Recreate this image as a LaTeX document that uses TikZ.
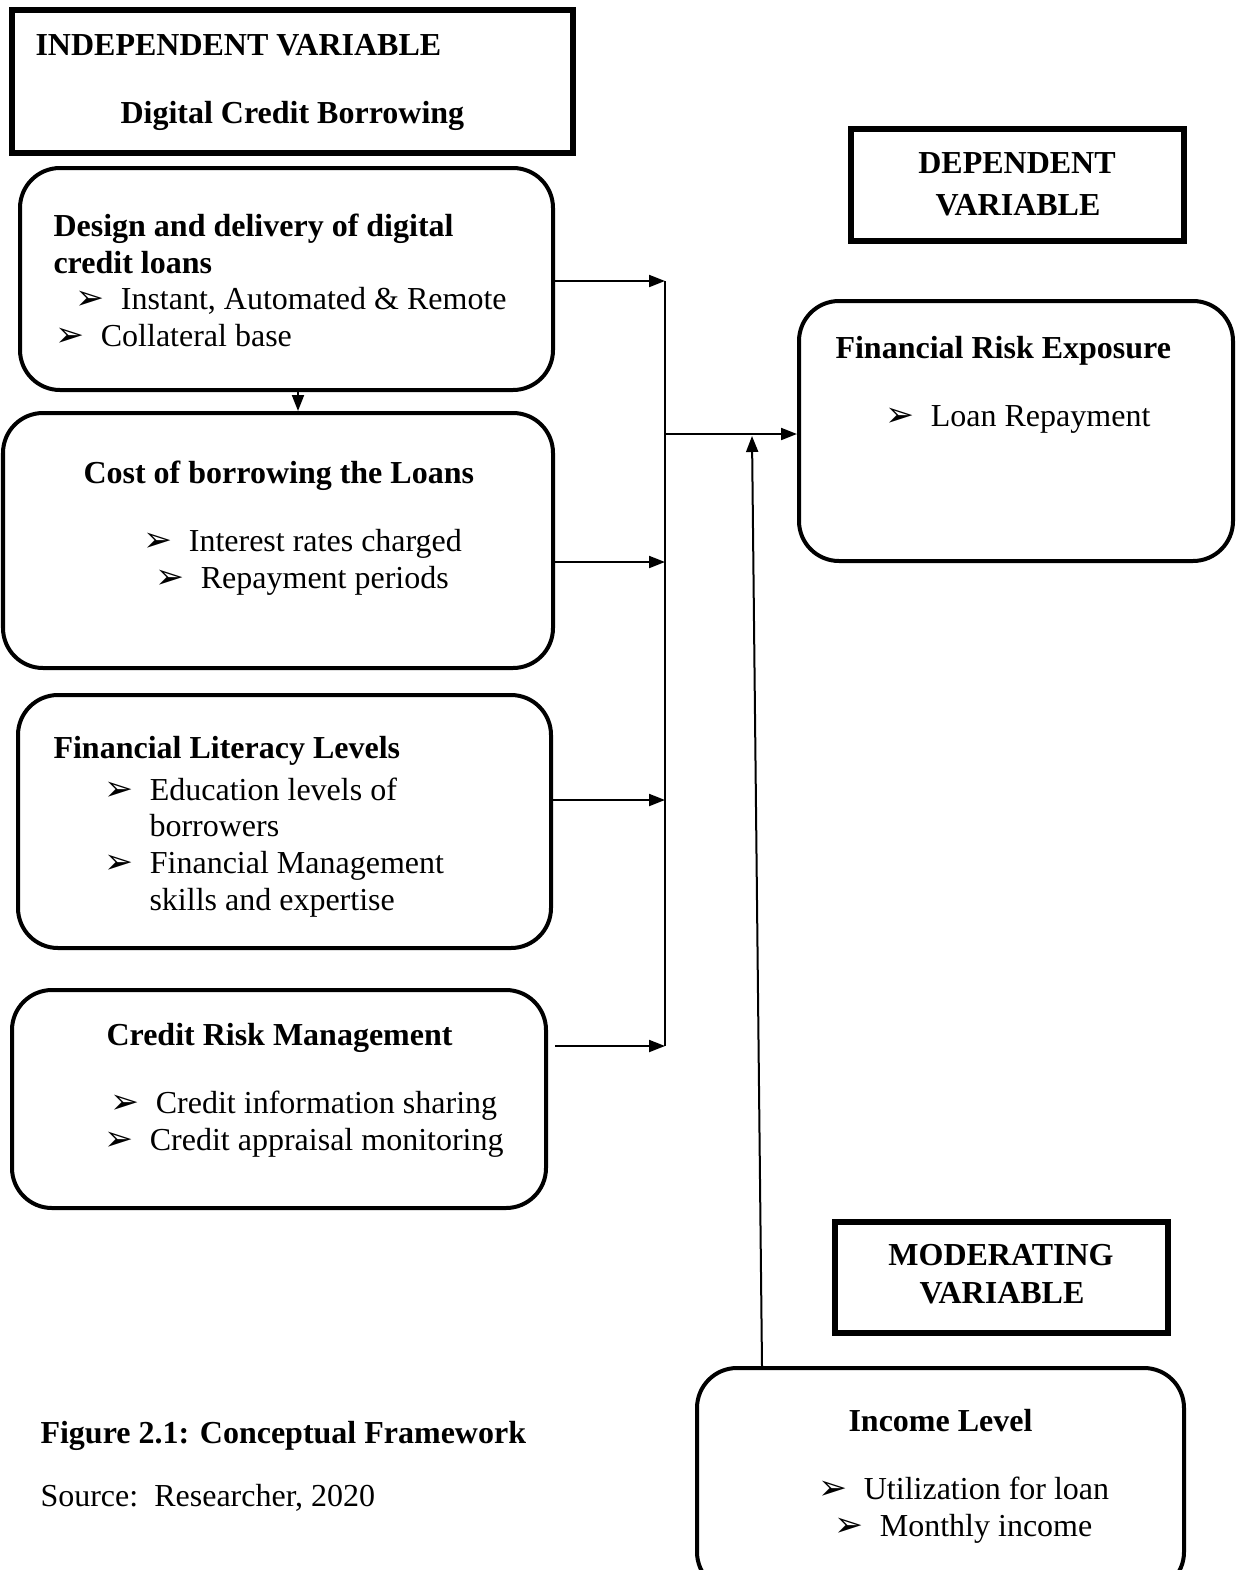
\documentclass[tikz,border=0pt]{standalone}
\usepackage{fontspec}
\setmainfont{Liberation Serif}
\newfontfamily\dingfont{DejaVu Sans}
\usetikzlibrary{arrows.meta}
% bullet with the gap to its text
\newcommand{\bul}{\makebox[17pt][l]{\dingfont\fontsize{13}{14}\selectfont ➢}}
\tikzset{
  headbox/.style={draw, line width=1.9pt},
  varbox/.style={draw, line width=1.5pt, rounded corners=15pt},
  sized/.style 2 args={minimum width=#1*0.375pt, minimum height=#2*0.375pt, inner sep=0pt},
  txt/.style={anchor=base west, inner sep=0pt, yshift=-0.75pt},
  ctxt/.style={anchor=base, inner sep=0pt, yshift=-0.75pt},
  arr/.style={line width=0.75pt, -{Triangle[length=6pt,width=4.5pt]}}
}
\begin{document}
\fontsize{12}{14}\selectfont
\begin{tikzpicture}[x=0.375pt, y=-0.375pt]
  \clip (0,0) rectangle (1237,1570);
  % boxes
  \node[headbox, sized={561}{143}] (indep) at (292.5,81.5) {};
  \node[varbox, sized={533}{222}] (design) at (286.5,279) {};
  \node[varbox, sized={550}{255}] (cost) at (278,540.5) {};
  \node[varbox, sized={533}{253}] (literacy) at (284.5,821.5) {};
  \node[varbox, sized={534}{218}] (risk) at (279,1099) {};
  \node[headbox, sized={333}{112}] (dep) at (1017.5,185) {};
  \node[varbox, sized={434}{260}] (fre) at (1016,431) {};
  \node[headbox, sized={333}{111}] (mod) at (1001.5,1277.5) {};
  \node[varbox, sized={487}{224}] (income) at (940.5,1480) {};

  % texts
  \node[txt] (indepA) at (35,53) {\textbf{INDEPENDENT VARIABLE}};
  \node[txt] (indepB) at (120,121) {\textbf{Digital Credit Borrowing}};

  \node[txt] (designA) at (53,234) {\textbf{Design and delivery of digital}};
  \node[txt] (designB) at (53,271) {\textbf{credit loans}};
  \node[txt] (designC) at (75,307) {\bul Instant, Automated \& Remote};
  \node[txt] (designD) at (55,344) {\bul Collateral base};

  \node[txt] (costA) at (83,481) {\textbf{Cost of borrowing the Loans}};
  \node[txt] (costB) at (143,549) {\bul Interest rates charged};
  \node[txt] (costC) at (155,586) {\bul Repayment periods};

  \node[txt] (litA) at (53,756) {\textbf{Financial Literacy Levels}};
  \node[txt] (litB) at (104,798) {\bul Education levels of};
  \node[txt] (litC) at (149,834) {borrowers};
  \node[txt] (litD) at (104,871) {\bul Financial Management};
  \node[txt] (litE) at (149,908) {skills and expertise};

  \node[txt] (riskA) at (106,1043) {\textbf{Credit Risk Management}};
  \node[txt] (riskB) at (110,1111) {\bul Credit information sharing};
  \node[txt] (riskC) at (104,1148) {\bul Credit appraisal monitoring};

  \node[ctxt] (depA) at (1017,171) {\textbf{DEPENDENT}};
  \node[ctxt] (depB) at (1018,213) {\textbf{VARIABLE}};

  \node[txt] (freA) at (835,356) {\textbf{Financial Risk Exposure}};
  \node[txt] (freB) at (885,424) {\bul Loan Repayment};

  \node[ctxt] (modA) at (1001,1263) {\textbf{MODERATING}};
  \node[ctxt] (modB) at (1002,1301) {\textbf{VARIABLE}};

  \node[txt] (incA) at (848,1429) {\textbf{Income Level}};
  \node[txt] (incB) at (818,1497) {\bul Utilization for loan};
  \node[txt] (incC) at (834,1534) {\bul Monthly income};

  \node[txt] (figcap) at (40,1441) {\textbf{Figure 2.1: Conceptual Framework}};
  \node[txt] (source) at (40,1504) {Source:\ \ Researcher, 2020};

  % connectors
  \coordinate (s1) at (665,281);
  \coordinate (s2) at (665,562);
  \coordinate (s3) at (665,800);
  \coordinate (s4) at (665,1046);
  \coordinate (smid) at (665,434);
  \coordinate (up) at (752,436);
  \coordinate (dn) at (298,0);
  \draw[line width=0.75pt] (s1) -- (s4);
  \draw[arr] (design.east |- s1) -- (s1);
  \draw[arr] (cost.east |- s2) -- (s2);
  \draw[arr] (literacy.east |- s3) -- (s3);
  \draw[arr] (risk.east |- s4) ++(7,0) -- (s4);
  \draw[arr] (smid) -- (fre.west |- smid);
  \draw[arr] (income.north west) ++(67,0) -- (up);
  \draw[arr] (design.south -| dn) -- (cost.north -| dn);
\end{tikzpicture}
\end{document}
